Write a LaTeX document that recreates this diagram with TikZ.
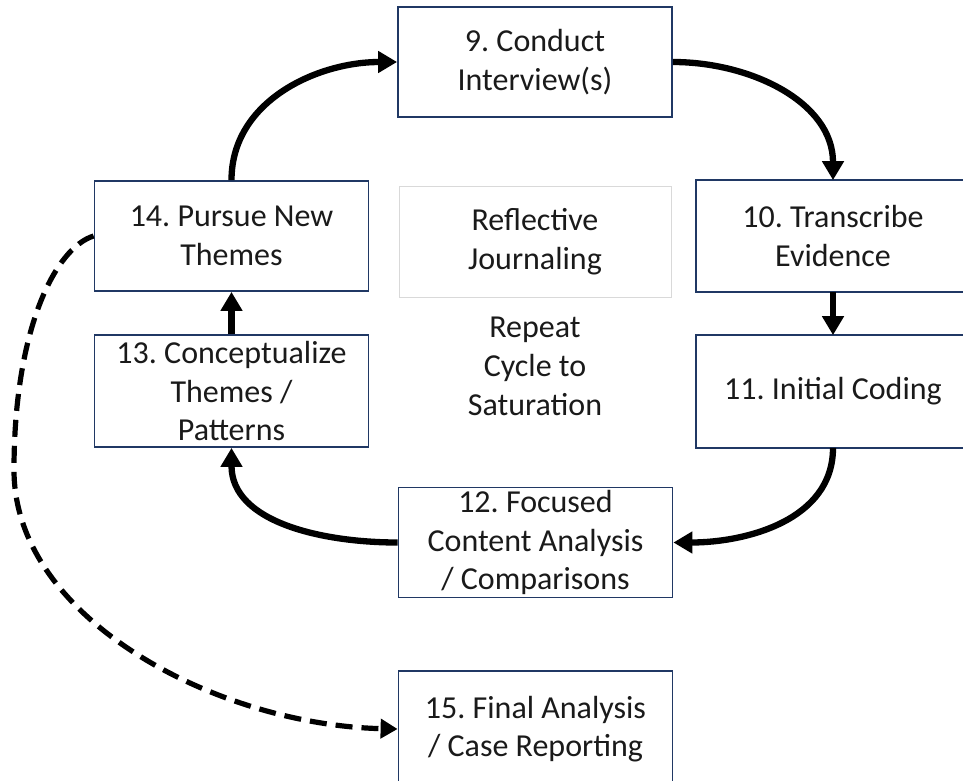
\documentclass[tikz,border=0pt]{standalone}
\usepackage{fontspec}
\setmainfont{Carlito}
\frenchspacing
\usetikzlibrary{arrows.meta}
\definecolor{navy}{HTML}{203864}
\definecolor{lightgr}{HTML}{D9D9D9}
\definecolor{txt}{HTML}{1A1A1A}
\begin{document}
\begin{tikzpicture}[x=1pt,y=-1pt,
  boxline/.style={draw=navy, line width=1.8pt},
  stepbox/.style={boxline, fill=white, minimum width=274pt, minimum height=110pt,
    align=center, inner sep=0pt, text=txt, font=\fontsize{32}{38.5}\selectfont},
  plainbox/.style={draw=lightgr, line width=0.9pt, minimum width=272pt, minimum height=111pt,
    align=center, inner sep=0pt, text=txt, font=\fontsize{32}{38.5}\selectfont},
  flow/.style={line width=6.3pt, -{Triangle[length=19pt,width=21pt]}},
  dflow/.style={line width=5.2pt, dash pattern=on 17pt off 9pt, -{Triangle[length=17pt,width=19pt]}}]
\useasboundingbox (0,0) rectangle (963,780);
\node[stepbox] (n9) at (535,62) {9. Conduct\\Interview(s)};
\node[stepbox, draw=none, fill=none, minimum width=272pt] (n10) at (833,236) {10. Transcribe\\Evidence};
\draw[boxline] (n10.north west) ++(300,0) -- (n10.north west) -- (n10.south west) -- ++(300,0);
\node[stepbox, draw=none, fill=none, minimum width=272pt, minimum height=111pt] (n11) at (833,391.5) {11. Initial Coding};
\draw[boxline] (n11.north west) ++(300,0) -- (n11.north west) -- (n11.south west) -- ++(300,0);
\node[stepbox] (n12) at (535.5,542.5) {12. Focused\\Content Analysis\\/ Comparisons};
\node[stepbox, minimum height=112pt] (n13) at (231.5,391) {13. Conceptualize\\Themes /\\Patterns};
\node[stepbox] (n14) at (231.5,236) {14. Pursue New\\Themes};
\node[plainbox] (rj) at (535,241.5) {Reflective\\Journaling};
\node[align=center, text=txt, font=\fontsize{32}{39}\selectfont, inner sep=0pt] (rep) at (535,366) {Repeat\\Cycle to\\Saturation};
\node[stepbox, minimum height=116pt] (n15) at (535.5,729) {15. Final Analysis\\/ Case Reporting};
\coordinate (dl) at (14,470);
\draw[flow] (n14.north) to[out=90,in=180] (n9.west);
\draw[flow] (n9.east) to[out=0,in=90] (n10.north);
\draw[flow] (n10.south) -- (n11.north);
\draw[flow] (n11.south) to[out=-90,in=0] (n12.east);
\draw[flow] (n12.west) to[out=180,in=-90] (n13.south);
\draw[flow] (n13.north) -- (n14.south);
\draw[dflow] (n14.west) .. controls (55,248) and (14,330) .. (dl)
  .. controls (14,620) and (219,725) .. (n15.west);
\end{tikzpicture}
\end{document}
